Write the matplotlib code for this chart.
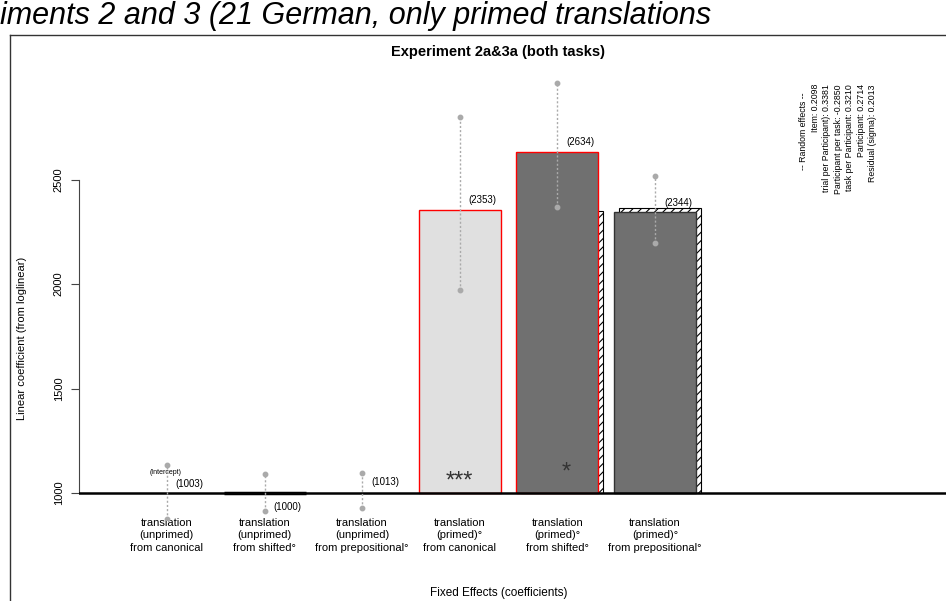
import matplotlib
matplotlib.use("Agg")
import matplotlib.pyplot as plt
import numpy as np
from matplotlib.lines import Line2D

plt.rcParams['font.family'] = ['Liberation Sans', 'DejaVu Sans']
plt.rcParams['hatch.linewidth'] = 0.8

# data
categories = ["translation\n(unprimed)\nfrom canonical",
              "translation\n(unprimed)\nfrom shifted°",
              "translation\n(unprimed)\nfrom prepositional°",
              "translation\n(primed)°\nfrom canonical",
              "translation\n(primed)°\nfrom shifted°",
              "translation\n(primed)°\nfrom prepositional°"]
coef = [1003, 1000, 1013, 2353, 2634, 2344]
err_low = [876, 914, 928, 1971, 2368, 2196]
err_high = [1134, 1091, 1096, 2799, 2962, 2517]
signif = ["", "", "", "***", "*", ""]
shadow_idx = [4, 5]
shadow_vals = [2347, 2366]
ranef_lines = ["Item: 0.2098",
               "trial per Participant): 0.3381",
               "Participant per task: -0.2850",
               "task per Participant: 0.3210",
               "Participant: 0.2714",
               "Residual (sigma): 0.2013"]

W, H = 946, 601
fig = plt.figure(figsize=(W/100, H/100), dpi=100)

def fx(px):
    return px/W

def fy(py):
    return 1-py/H

ax = fig.add_axes([fx(79), fy(520), (W-79)/W, (520-75)/H])
ax.set_xlim(-0.90, 7.98)
ax.set_ylim(871, 3000)
for s in ["top", "right", "bottom"]:
    ax.spines[s].set_visible(False)
ax.spines["left"].set_bounds(1000, 2500)
ax.spines["left"].set_color("#444444")
ax.set_xticks([])
ax.set_yticks([1000, 1500, 2000, 2500])
ax.set_yticklabels(["1000", "1500", "2000", "2500"], rotation=90, va="center", fontsize=8)
ax.tick_params(axis="y", length=6, color="#444444", pad=5)

x = np.arange(len(coef))
base = 1000
heights = np.array(coef) - base

face = ["white", "white", "white", "#e0e0e0", "#707070", "#707070"]
edge = ["none", "black", "none", "red", "red", "#333333"]
lws = [0, 2.5, 0, 1.0, 1.0, 1.0]

# hatched bars behind
ax.bar(x[shadow_idx] + 0.05, np.array(shadow_vals) - base, bottom=base, width=0.84,
       facecolor="white", edgecolor="black", hatch="////", linewidth=0.8, zorder=1)
ax.bar(x, heights, bottom=base, width=0.84, color=face, edgecolor=edge,
       linewidth=lws, zorder=2)

ax.axhline(base, color="black", lw=1.8, zorder=3)

# error bars
ax.vlines(x, err_low, err_high, colors="#aaaaaa", linestyles=(0, (1.5, 1.5)), lw=1, zorder=4)
ax.plot(x, err_low, "o", color="#aaaaaa", ms=3.2, zorder=4)
ax.plot(x, err_high, "o", color="#aaaaaa", ms=3.2, zorder=4)

# value labels
lab_dy = [8, -14, 8, 10, 10, 9]
for i, v in enumerate(coef):
    ax.annotate(f"({v})", (x[i], v), xytext=(9, lab_dy[i]), textcoords="offset pixels",
                ha="left", va="center", fontsize=7, zorder=5)

ax.annotate("(Intercept)", (x[0], base), xytext=(-1, 21), textcoords="offset pixels",
            ha="center", va="center", fontsize=5)

# significance stars
star_dx = [0, 0, 0, 0, 9, 0]
star_dy = [0, 0, 0, 12, 21, 0]
for i, s in enumerate(signif):
    if s:
        ax.annotate(s, (x[i], base), xytext=(star_dx[i], star_dy[i]), textcoords="offset pixels",
                    ha="center", va="center", fontsize=17, color="#333333")

# category labels
for i, c in enumerate(categories):
    ax.annotate(c, (x[i], base), xytext=(0, -25), textcoords="offset pixels",
                ha="center", va="top", fontsize=8, linespacing=1.3, annotation_clip=False)

# random effects block
fig.text(fx(803), fy(92), "-- Random effects --", rotation=90, ha="center", va="top", fontsize=6.3)
for j, line in enumerate(ranef_lines):
    fig.text(fx(815 + j*11.5), fy(84), line, rotation=90, ha="center", va="top", fontsize=6.3)

fig.text(fx(498), fy(52), "Experiment 2a&3a (both tasks)", ha="center", va="center",
         fontsize=10.5, fontweight="bold")
fig.text(fx(22), fy(338), "Linear coefficient (from loglinear)", rotation=90,
         ha="center", va="center", fontsize=8)
fig.text(fx(499), fy(593), "Fixed Effects (coefficients)", ha="center", va="center", fontsize=8.5)

fig.text(fx(0), fy(16), "iments 2 and 3 (21 German, only primed translations",
         ha="left", va="center", fontsize=22, style="italic")

# frame of the embedded figure
fig.add_artist(Line2D([fx(10), fx(10)], [fy(35), 0], color="#333333", lw=1))
fig.add_artist(Line2D([fx(10), 1], [fy(35), fy(35)], color="#333333", lw=1))

fig.savefig("out.png", dpi=100)
